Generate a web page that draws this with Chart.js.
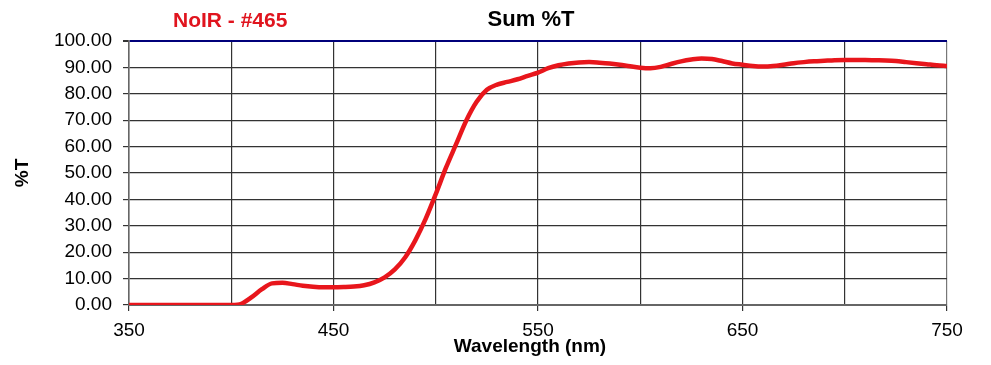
<!DOCTYPE html>
<html>
<head>
<meta charset="utf-8">
<script src="https://cdn.jsdelivr.net/npm/chart.js@4/dist/chart.umd.min.js"></script>
<style>
html,body{margin:0;padding:0;background:#fff;}
#wrap{width:991px;height:365px;position:relative;}
</style>
</head>
<body>
<div id="wrap"><canvas id="c" width="991" height="365"></canvas></div>
<script>
const chartTitle = "Sum %T";
const sampleLabel = "NoIR - #465";
const xAxisTitle = "Wavelength (nm)";
const yAxisTitle = "%T";
const xTickLabels = [350, 450, 550, 650, 750];
const wavelengths = [350,355,360,365,370,375,380,385,390,395,400,403,405,410,415,420,425,430,435,440,445,450,455,460,465,470,475,480,485,490,495,500,505,510,515,520,525,530,535,540,545,550,555,560,565,570,575,580,585,590,595,600,605,610,615,620,625,630,635,640,645,650,655,660,665,670,675,680,685,690,695,700,705,710,715,720,725,730,735,740,745,750];
const transmission = [0,0,0,0,0,0,0,0,0,0,0,0.1,0.5,3,6,8.2,8.4,7.9,7.3,6.9,6.7,6.7,6.8,7.0,7.5,8.6,10.5,13.5,18,24.5,32.5,42,52,61,70,77,81.5,83.5,84.5,85.5,86.8,88,89.7,90.8,91.5,91.9,92,91.8,91.5,91,90.4,89.9,89.7,90.2,91.3,92.3,93,93.4,93.2,92.4,91.5,91,90.5,90.3,90.5,91,91.6,92,92.3,92.5,92.7,92.8,92.8,92.8,92.7,92.6,92.4,92,91.6,91.2,90.8,90.5];

const FONT = "'Liberation Sans', Arial, Helvetica, sans-serif";

const textPlugin = {
  id: 'texts',
  afterDraw(chart) {
    const ctx = chart.ctx;
    ctx.save();
    ctx.textBaseline = 'middle';
    ctx.textAlign = 'center';
    ctx.fillStyle = '#000';
    ctx.font = "bold 22px " + FONT;
    ctx.fillText(chartTitle, 531, 20);
    ctx.font = "bold 19px " + FONT;
    ctx.fillText(xAxisTitle, 530, 347);
    ctx.fillStyle = '#e0141e';
    ctx.font = "bold 21px " + FONT;
    ctx.textAlign = 'left';
    ctx.fillText(sampleLabel, 173, 21);
    ctx.restore();
  }
};

const points = wavelengths.map((w, i) => ({x: w, y: transmission[i]}));

new Chart(document.getElementById('c'), {
  type: 'line',
  data: {
    datasets: [{
      data: points,
      borderColor: '#e8161c',
      borderWidth: 4.5,
      pointRadius: 0,
      tension: 0.4,
      cubicInterpolationMode: 'monotone',
      fill: false
    }]
  },
  options: {
    responsive: false,
    animation: false,
    devicePixelRatio: 1,
    layout: {padding: {top: 41, right: 44, bottom: 0, left: 0}},
    plugins: {legend: {display: false}, title: {display: false}, tooltip: {enabled: false}},
    scales: {
      x: {
        type: 'linear',
        min: 350, max: 750,
        afterFit(s) { s.height = 60; },
        afterBuildTicks(s) {
          const t = [];
          for (let v = 350; v <= 750; v += 50) t.push({value: v});
          s.ticks = t;
        },
        ticks: {
          autoSkip: false,
          maxRotation: 0,
          padding: 8,
          color: '#000',
          font: {family: FONT, size: 19},
          callback: (v) => xTickLabels.includes(v) ? String(v) : ''
        },
        grid: {
          color: (c) => (c.tick && (c.tick.value === 750)) ? '#777' : '#333',
          lineWidth: 1.2,
          tickLength: 6,
          tickColor: (c) => (c.tick && xTickLabels.includes(c.tick.value)) ? '#333' : 'rgba(0,0,0,0)'
        },
        border: {color: '#666', width: 2},
        title: {display: false, text: xAxisTitle}
      },
      y: {
        min: 0, max: 100,
        afterFit(s) { s.width = 129; },
        ticks: {
          stepSize: 10,
          padding: 11,
          color: '#000',
          font: {family: FONT, size: 19},
          callback: (v) => Number(v).toFixed(2)
        },
        grid: {
          color: (c) => (c.tick && c.tick.value === 100) ? '#00007a' : '#333',
          lineWidth: (c) => (c.tick && c.tick.value === 100) ? 2 : 1.2,
          tickLength: 6,
          tickColor: '#333'
        },
        border: {color: '#666', width: 1.5},
        title: {
          display: true,
          text: yAxisTitle,
          color: '#000',
          font: {family: FONT, size: 19, weight: 'bold'},
          padding: {top: 11, bottom: 0}
        }
      }
    }
  },
  plugins: [textPlugin]
});
</script>
</body>
</html>
